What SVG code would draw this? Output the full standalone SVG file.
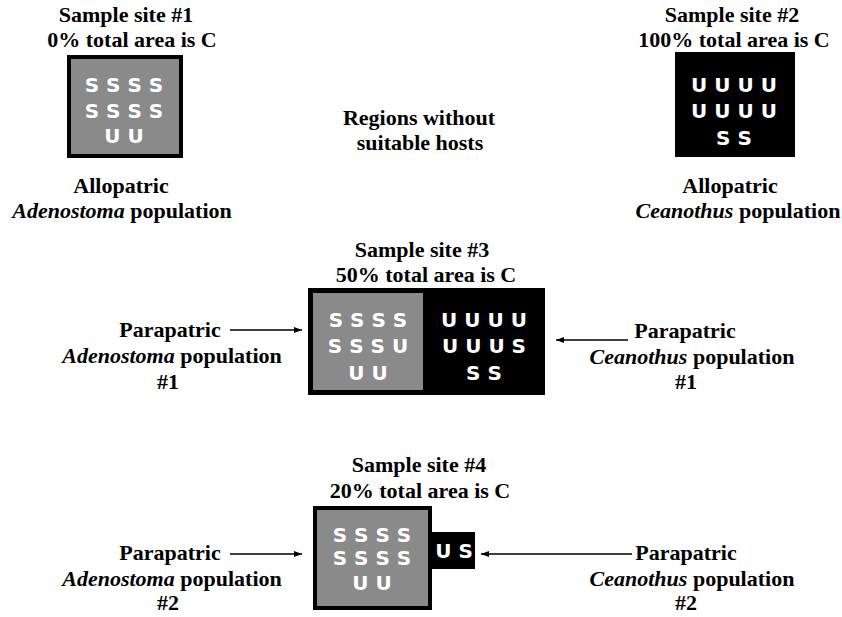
<svg xmlns="http://www.w3.org/2000/svg" width="842" height="617" viewBox="0 0 842 617">
<defs>
<marker id="ah" markerWidth="8" markerHeight="6" refX="8" refY="3" orient="auto" markerUnits="userSpaceOnUse">
<path d="M0,0 L8,3 L0,6 Z" fill="#000"/>
</marker>
<style>
.t{font-family:"Liberation Serif","Times New Roman",serif;font-weight:bold;font-size:22px;fill:#000;text-anchor:middle}
.i{font-style:italic}
.l{font-family:"DejaVu Sans",Verdana,sans-serif;font-weight:bold;font-size:20px;fill:#fff;text-anchor:middle}
.g{fill:#8a8a8a;stroke:#000;stroke-width:4}
.b{fill:#000}
.c{stroke:#000;stroke-width:1.3;fill:none;marker-end:url(#ah)}
</style>
</defs>
<rect width="842" height="617" fill="#fff"/>

<g id="site1">
<text class="t" x="126" y="22">Sample site #1</text>
<text class="t" x="132" y="47">0% total area is C</text>
<rect class="g" x="69" y="57" width="112" height="99"/>
<text class="l" x="124" y="92">S S S S</text>
<text class="l" x="124" y="118">S S S S</text>
<text class="l" x="124" y="143">U U</text>
</g>

<g id="allo1">
<text class="t" x="121" y="193">Allopatric</text>
<text class="t" x="122" y="218"><tspan class="i">Adenostoma</tspan> population</text>
</g>

<g id="site2">
<text class="t" x="732" y="22">Sample site #2</text>
<text class="t" x="734" y="47">100% total area is C</text>
<rect class="b" x="675" y="52" width="120" height="105"/>
<text class="l" x="734" y="92">U U U U</text>
<text class="l" x="734" y="118">U U U U</text>
<text class="l" x="734" y="145">S S</text>
</g>

<g id="allo2">
<text class="t" x="730" y="193">Allopatric</text>
<text class="t" x="738" y="218"><tspan class="i">Ceanothus</tspan> population</text>
</g>

<g id="regions">
<text class="t" x="419" y="125">Regions without</text>
<text class="t" x="420" y="150">suitable hosts</text>
</g>

<g id="site3">
<text class="t" x="422" y="257">Sample site #3</text>
<text class="t" x="426" y="282">50% total area is C</text>
<rect class="b" x="308" y="288" width="237" height="107"/>
<rect fill="#8a8a8a" x="313" y="293" width="110" height="97"/>
<text class="l" x="368" y="327">S S S S</text>
<text class="l" x="368" y="353">S S S U</text>
<text class="l" x="368" y="380">U U</text>
<text class="l" x="484" y="327">U U U U</text>
<text class="l" x="484" y="353">U U U S</text>
<text class="l" x="484" y="380">S S</text>
</g>

<g id="para-a1">
<text class="t" x="170" y="337">Parapatric</text>
<text class="t" x="172" y="363"><tspan class="i">Adenostoma</tspan> population</text>
<text class="t" x="168" y="389">#1</text>
</g>

<g id="para-c1">
<text class="t" x="685" y="338">Parapatric</text>
<text class="t" x="692" y="364"><tspan class="i">Ceanothus</tspan> population</text>
<text class="t" x="686" y="389">#1</text>
</g>

<g id="site4">
<text class="t" x="419" y="472">Sample site #4</text>
<text class="t" x="420" y="498">20% total area is C</text>
<rect class="g" x="315" y="508" width="115" height="100"/>
<rect class="b" x="432" y="532" width="43" height="37"/>
<text class="l" x="372" y="542">S S S S</text>
<text class="l" x="372" y="565">S S S S</text>
<text class="l" x="372" y="590">U U</text>
<text class="l" x="454" y="558">U S</text>
</g>

<g id="para-a2">
<text class="t" x="170" y="560">Parapatric</text>
<text class="t" x="172" y="586"><tspan class="i">Adenostoma</tspan> population</text>
<text class="t" x="168" y="610">#2</text>
</g>

<g id="para-c2">
<text class="t" x="686" y="560">Parapatric</text>
<text class="t" x="692" y="586"><tspan class="i">Ceanothus</tspan> population</text>
<text class="t" x="686" y="610">#2</text>
</g>

<g id="connectors">
<line class="c" x1="230" y1="330" x2="302" y2="330"/>
<line class="c" x1="628" y1="340" x2="556" y2="340"/>
<line class="c" x1="230" y1="554" x2="302" y2="554"/>
<line class="c" x1="632" y1="554" x2="481" y2="554"/>
</g>
</svg>
